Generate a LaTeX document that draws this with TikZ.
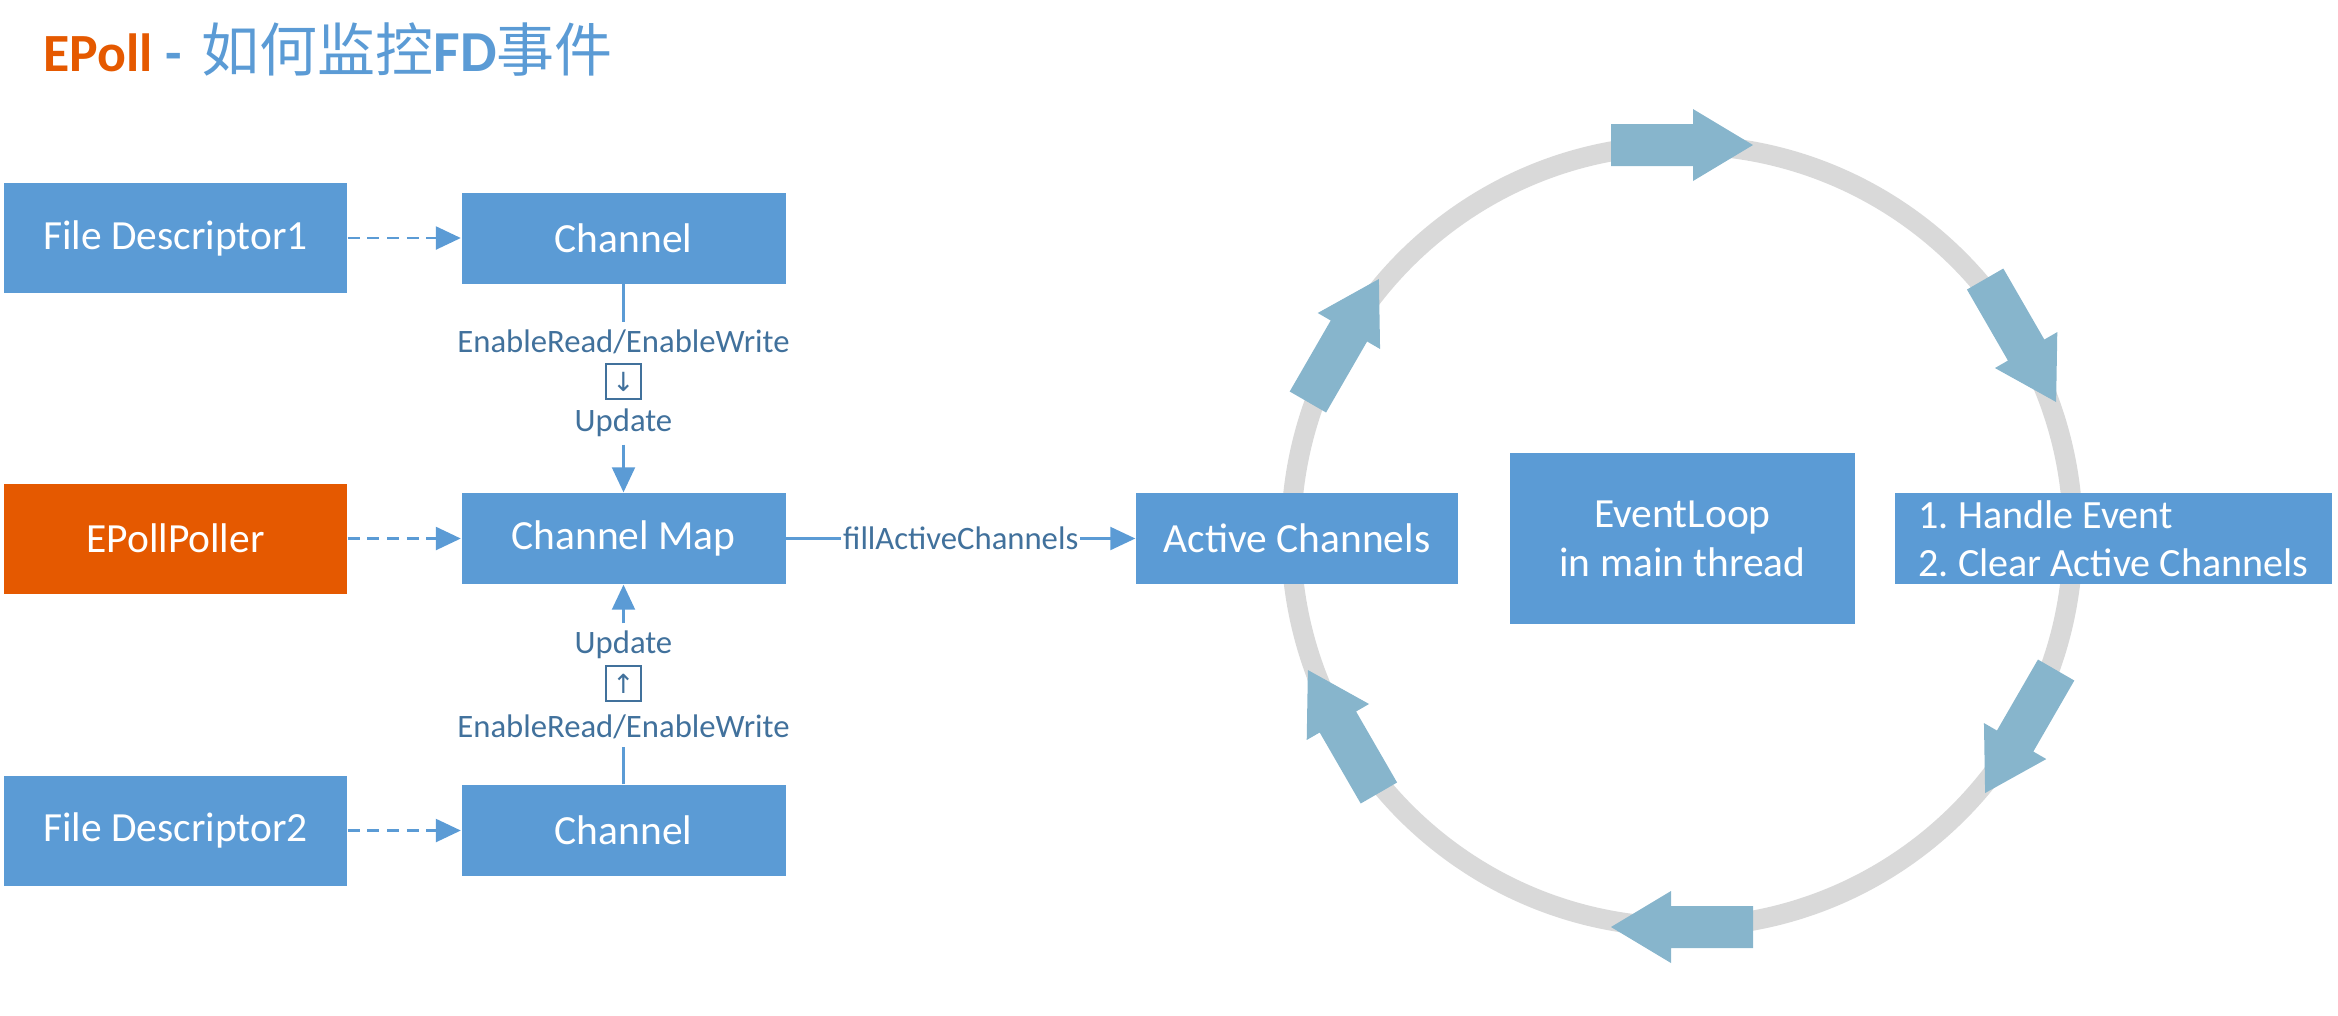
\documentclass[tikz,border=0pt]{standalone}
\usepackage{fontspec}
\usepackage{tikz}
\usetikzlibrary{arrows.meta}
\setmainfont{Carlito}
\newfontfamily\cjk{Noto Sans CJK SC}
\newfontfamily\arrowfont{DejaVu Sans}
\definecolor{boxblue}{RGB}{91,155,213}
\definecolor{eorange}{RGB}{229,89,0}
\definecolor{lblblue}{RGB}{65,113,156}
\definecolor{ringgray}{RGB}{217,217,217}
\definecolor{arrowblue}{RGB}{135,181,204}

\begin{document}
\begin{tikzpicture}[
  bluebox/.style={fill=boxblue, text=white, minimum width=3.24cm, minimum height=0.91cm,
    inner sep=0pt, font=\fontsize{11.8}{14}\selectfont\frenchspacing},
  fdbox/.style={bluebox, minimum width=3.43cm, minimum height=1.1cm},
  lbl/.style={text=lblblue, inner xsep=0.5pt, inner ysep=2pt, font=\fontsize{9.3}{11}\selectfont},
  keybox/.style={draw=lblblue, line width=0.5pt, minimum size=0.35cm, inner sep=0pt,
    text=lblblue, font=\arrowfont\fontsize{7.5}{9}\selectfont},
  dasharr/.style={color=boxblue, line width=0.7pt, dash pattern=on 3.4pt off 2.2pt,
    -{Triangle[length=0.25cm,width=0.23cm]}},
  solidarr/.style={color=boxblue, line width=0.6pt, -{Triangle[length=0.25cm,width=0.23cm]}},
  solidln/.style={color=boxblue, line width=0.6pt}]
  \useasboundingbox (0,0) rectangle (23.38,-10.15);

  % title
  \node[anchor=base west, inner sep=0pt, font=\fontsize{15.3}{18}\selectfont] (title) at (0.43,-0.71)
    {\textcolor{eorange}{\bfseries EPoll} {\color{boxblue}\bfseries -\hspace{0.08cm}
      {\normalfont\cjk\fontsize{16.5}{18}\selectfont 如何监控}{\fontsize{16.5}{18}\selectfont FD}{\normalfont\cjk\fontsize{16.5}{18}\selectfont 事件}}};

  % event loop ring
  \coordinate (cen) at (16.82,-5.36);
  \draw[ringgray, line width=0.2cm] (cen) circle (3.91);
  \foreach \a in {90,30,-30,-90,-150,-210} {
    \fill[arrowblue, shift={(cen)}, rotate=\a] (3.70,0.71) -- (4.12,0.71) -- (4.12,-0.11)
      -- (4.27,-0.11) -- (3.91,-0.71) -- (3.55,-0.11) -- (3.70,-0.11) -- cycle;
  }

  \node[fdbox] (fd1) at (1.755,-2.38) {File Descriptor1};
  \node[bluebox] (ch1) at (6.235,-2.38) {Channel};
  \node[fdbox, fill=eorange] (poller) at (1.755,-5.385) {EPollPoller};
  \node[bluebox] (map) at (6.235,-5.385) {Channel Map};
  \node[fdbox] (fd2) at (1.755,-8.305) {File Descriptor2};
  \node[bluebox] (ch2) at (6.235,-8.305) {Channel};

  \node[bluebox, minimum width=3.22cm] (active) at (12.97,-5.385) {Active Channels};
  \node[bluebox, minimum width=3.45cm, minimum height=1.71cm, align=center] (loop)
    at (16.825,-5.385) {EventLoop\\in main thread};
  \node[bluebox, minimum width=4.37cm, align=left,
    font=\fontsize{11.4}{13.7}\selectfont\frenchspacing] (handle)
    at (21.135,-5.385) {1. Handle Event\\2. Clear Active Channels};

  % update labels
  \node[lbl] (erw1) at (6.235,-3.42) {EnableRead/EnableWrite};
  \node[keybox] (key1) at (6.235,-3.815) {↓};
  \node[lbl] (upd1) at (6.235,-4.23) {Update};
  \node[lbl] (upd2) at (6.235,-6.45) {Update};
  \node[keybox] (key2) at (6.235,-6.835) {↑};
  \node[lbl] (erw2) at (6.235,-7.27) {EnableRead/EnableWrite};

  \path[dasharr] (fd1) edge (ch1);
  \path[dasharr] (poller) edge (map);
  \path[dasharr] (fd2) edge (ch2);
  \path[solidln] (ch1) edge (erw1);
  \path[solidarr] (upd1) edge (map);
  \path[solidln] (ch2) edge (erw2);
  \path[solidarr] (upd2) edge (map);
  \path[solidarr] (map) edge node[lbl, fill=white, text=lblblue] {fillActiveChannels} (active);
\end{tikzpicture}
\end{document}
